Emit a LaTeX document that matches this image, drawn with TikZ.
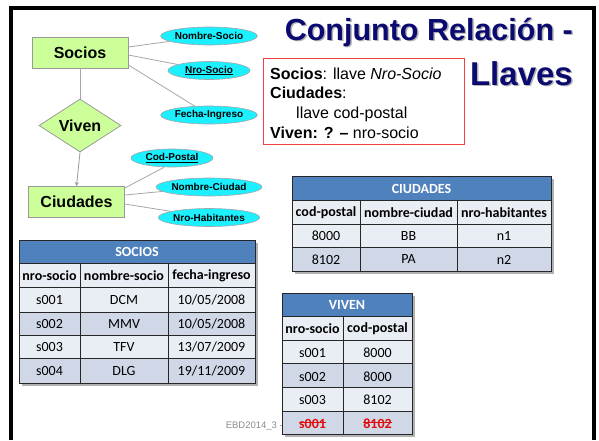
\documentclass[tikz,border=0pt]{standalone}
\usepackage{fontspec}
\setmainfont{Liberation Sans}
\newfontfamily\tabfont{Carlito}
\usetikzlibrary{shapes.geometric,arrows.meta}
\definecolor{entgreen}{HTML}{CCFF99}
\definecolor{attcyan}{HTML}{1CF0FF}
\definecolor{titlenavy}{HTML}{0A0A70}
\definecolor{hdrblue}{HTML}{4F81BD}
\definecolor{tabA}{HTML}{E9EDF4}
\definecolor{tabB}{HTML}{D0D8E8}
\definecolor{keyred}{HTML}{F04040}
\definecolor{strikered}{HTML}{E01010}
\tikzset{
  entity/.style={draw=black!40, fill=entgreen, line width=0.8pt, minimum width=96pt, minimum height=31pt, inner sep=0pt, font=\fontsize{16}{18}\selectfont\bfseries},
  rel/.style={diamond, draw=black!40, fill=entgreen, line width=0.8pt, minimum width=82pt, minimum height=53pt, inner sep=0pt, aspect=1.55, font=\fontsize{16}{18}\selectfont\bfseries},
  attr/.style={ellipse, draw=black!35, fill=attcyan, line width=0.6pt, minimum width=82pt, minimum height=18pt, inner sep=0pt, font=\fontsize{10}{12}\selectfont\bfseries},
  conn/.style={draw=black!35, line width=0.8pt},
  th/.style={font=\tabfont\fontsize{14}{16}\selectfont\bfseries, text=white, inner sep=0pt},
  ch/.style={font=\tabfont\fontsize{14}{16}\selectfont\bfseries, inner sep=0pt},
  td/.style={font=\tabfont\fontsize{14}{16}\selectfont, inner sep=0pt},
  tdx/.style={font=\tabfont\fontsize{14}{16}\selectfont\bfseries, text=strikered, inner sep=0pt},
  grid/.style={draw=black!85, line width=0.9pt},
  shadow/.style={fill=black!30},
  titletext/.style={font=\fontsize{#1}{34}\selectfont\bfseries, text=titlenavy, inner sep=0pt},
  titleshadow/.style={font=\fontsize{#1}{34}\selectfont\bfseries, text=black!30, inner sep=0pt},
}
\begin{document}
\begin{tikzpicture}[x=1pt,y=-1pt]
\useasboundingbox (0,0) rectangle (599,440);
\fill[white] (0,0) rectangle (599,440);
% slide frame
\draw[line width=4pt] (11,440) -- (11,7.5) -- (594,7.5) -- (594,440);

% title
\node[titleshadow=30.5, anchor=base east] (t1s) at (574.5,41.5) {Conjunto Relación -};
\node[titletext=30.5, anchor=base east] (t1) at (573,40) {Conjunto Relación -};
\node[titleshadow=33, anchor=base east] (t2s) at (574.5,86.5) {Llaves};
\node[titletext=33, anchor=base east] (t2) at (573,85) {Llaves};

% key box
\draw[keyred, line width=0.8pt] (263,58) rectangle (464,144);
\node[anchor=base west, inner sep=0pt, font=\fontsize{16}{18}\selectfont] (k1) at (270,79) {\textbf{Socios}: llave \textit{Nro-Socio}};
\node[anchor=base west, inner sep=0pt, font=\fontsize{16}{18}\selectfont] (k2) at (270,98.5) {\textbf{Ciudades}:};
\node[anchor=base west, inner sep=0pt, font=\fontsize{16}{18}\selectfont] (k3) at (296,118) {llave cod-postal};
\node[anchor=base west, inner sep=0pt, font=\fontsize{16}{18}\selectfont] (k4) at (270,138) {\textbf{Viven: ? –} nro-socio};

% ER diagram
\node[entity] (socios) at (80,52.5) {Socios};
\node[rel] (viven) at (80,125.5) {Viven};
\node[entity] (ciudades) at (76.5,202) {Ciudades};
\node[attr] (nsoc) at (209,36) {Nombre-Socio};
\node[attr] (nrosoc) at (209,70.5) {\underline{Nro-Socio}};
\node[attr] (fing) at (209,115) {Fecha-Ingreso};
\node[attr] (cpos) at (172,158) {\underline{Cod-Postal}};
\node[attr] (nciu) at (209,187) {Nombre-Ciudad};
\node[attr] (nhab) at (209,217.5) {Nro-Habitantes};

\draw[conn] (socios.south) -- (viven.north);
\draw[conn, -{Stealth[length=4pt,width=4pt]}, color=black!40] (viven.south) -- (ciudades.north);
\draw[conn] ([yshift=5.5pt]socios.east) -- (nsoc);
\draw[conn] ([yshift=-2.5pt]socios.east) -- (nrosoc);
\draw[conn] ([yshift=-12.5pt]socios.east) -- (fing);
\draw[conn] ([yshift=14pt]ciudades.east) -- ([xshift=-8pt]cpos.south);
\draw[conn] ([yshift=7pt]ciudades.east) -- (nciu);
\draw[conn] ([yshift=-2pt]ciudades.east) -- (nhab);

% CIUDADES table
\fill[shadow] (295,179) rectangle (554,274);
\fill[hdrblue] (292,176) rectangle (551,200);
\fill[tabA] (292,200) rectangle (551,247);
\fill[tabB] (292,247) rectangle (551,271);
\draw[grid] (292,176) rectangle (551,271);
\draw[grid] (292,200) -- (551,200) (292,224) -- (551,224) (292,247) -- (551,247)
  (360,200) -- (360,271) (457,200) -- (457,271);
\node[th] (cT) at (421.5,188.5) {CIUDADES};
\node[ch] (c11) at (326,212.5) {cod-postal};
\node[ch] (c12) at (408.5,212.5) {nombre-ciudad};
\node[ch] (c13) at (504,212.5) {nro-habitantes};
\node[td] (c21) at (326,236) {8000};
\node[td] (c22) at (408.5,236) {BB};
\node[td] (c23) at (504,236) {n1};
\node[td] (c31) at (326,259.5) {8102};
\node[td] (c32) at (408.5,259.5) {PA};
\node[td] (c33) at (504,259.5) {n2};

% SOCIOS table
\fill[shadow] (22,243) rectangle (258,386);
\fill[hdrblue] (19,240) rectangle (255,263);
\fill[tabA] (19,263) rectangle (255,312);
\fill[tabB] (19,312) rectangle (255,335);
\fill[tabA] (19,335) rectangle (255,358);
\fill[tabB] (19,358) rectangle (255,383);
\draw[grid] (19,240) rectangle (255,383);
\draw[grid] (19,263) -- (255,263) (19,287) -- (255,287) (19,312) -- (255,312)
  (19,335) -- (255,335) (19,358) -- (255,358)
  (80,263) -- (80,383) (168,263) -- (168,383);
\node[th] (sT) at (137,252) {SOCIOS};
\node[ch] (s11) at (49.5,275.5) {nro-socio};
\node[ch] (s12) at (124,275.5) {nombre-socio};
\node[ch] (s13) at (211.5,275.5) {fecha-ingreso};
\node[td] (s21) at (49.5,300) {s001};
\node[td] (s22) at (124,300) {DCM};
\node[td] (s23) at (211.5,300) {10/05/2008};
\node[td] (s31) at (49.5,324) {s002};
\node[td] (s32) at (124,324) {MMV};
\node[td] (s33) at (211.5,324) {10/05/2008};
\node[td] (s41) at (49.5,347) {s003};
\node[td] (s42) at (124,347) {TFV};
\node[td] (s43) at (211.5,347) {13/07/2009};
\node[td] (s51) at (49.5,371) {s004};
\node[td] (s52) at (124,371) {DLG};
\node[td] (s53) at (211.5,371) {19/11/2009};

% VIVEN table
\fill[shadow] (285,296) rectangle (415,437);
\fill[hdrblue] (282,293) rectangle (412,316);
\fill[tabA] (282,316) rectangle (412,363);
\fill[tabB] (282,363) rectangle (412,387);
\fill[tabA] (282,387) rectangle (412,411);
\fill[tabB] (282,411) rectangle (412,434);
\draw[grid] (282,293) rectangle (412,434);
\draw[grid] (282,316) -- (412,316) (282,340) -- (412,340) (282,363) -- (412,363)
  (282,387) -- (412,387) (282,411) -- (412,411)
  (343,316) -- (343,434);
\node[th] (vT) at (347,305) {VIVEN};
\node[ch] (v11) at (312.5,329) {nro-socio};
\node[ch] (v12) at (377.5,329) {cod-postal};
\node[td] (v21) at (312.5,353) {s001};
\node[td] (v22) at (377.5,353) {8000};
\node[td] (v31) at (312.5,376.5) {s002};
\node[td] (v32) at (377.5,376.5) {8000};
\node[td] (v41) at (312.5,400) {s003};
\node[td] (v42) at (377.5,400) {8102};
\node[tdx] (v51) at (312.5,423.5) {s001};
\node[tdx] (v52) at (377.5,423.5) {8102};
\draw[strikered, line width=0.9pt] ([yshift=1pt]v51.west) -- ([yshift=1pt]v51.east);
\draw[strikered, line width=0.9pt] ([yshift=1pt]v52.west) -- ([yshift=1pt]v52.east);

% footer
\node[anchor=base east, inner sep=0pt, text=black!45, font=\fontsize{9.5}{11}\selectfont] (foot) at (283,428) {EBD2014\_3 -};
\end{tikzpicture}
\end{document}
